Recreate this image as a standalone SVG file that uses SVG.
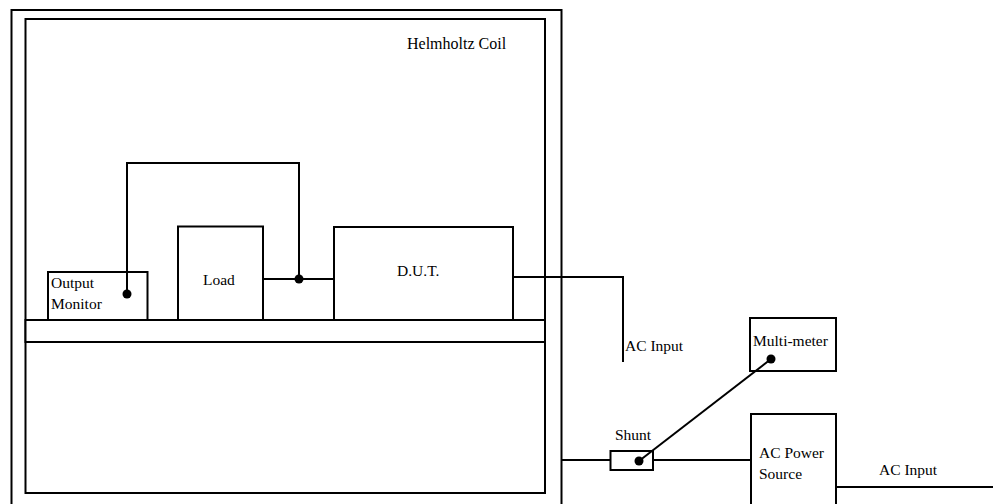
<svg xmlns="http://www.w3.org/2000/svg" width="995" height="504" viewBox="0 0 995 504">
<style>
.b{fill:#fff;stroke:#000;stroke-width:2}
.w{fill:none;stroke:#000;stroke-width:2}
.t{font-family:"Liberation Serif","Times New Roman","DejaVu Serif",serif;font-size:15.5px;fill:#000}
.d{fill:#000}
</style>
<rect width="995" height="504" fill="#fff"/>
<g id="enclosure">
<rect class="b" x="11.5" y="10" width="550" height="500"/>
</g>
<g id="helmholtz-coil">
<rect class="b" x="25.5" y="19" width="519.5" height="474"/>
<text class="t" x="407" y="49" style="font-size:16px">Helmholtz Coil</text>
</g>
<g id="shelf">
<rect class="b" x="25.5" y="320" width="519.5" height="22"/>
</g>
<g id="output-monitor">
<rect class="b" x="48" y="272" width="99.5" height="48"/>
<text class="t" x="51" y="288">Output</text>
<text class="t" x="51" y="309">Monitor</text>
</g>
<g id="load">
<rect class="b" x="178" y="226.5" width="85" height="93.5"/>
<text class="t" x="203" y="285">Load</text>
</g>
<g id="dut">
<rect class="b" x="334" y="227" width="179" height="93"/>
<text class="t" x="397" y="276">D.U.T.</text>
</g>
<g id="multi-meter">
<rect class="b" x="750" y="318" width="86" height="53"/>
<text class="t" x="753" y="346">Multi-meter</text>
</g>
<g id="shunt">
<rect class="b" x="610.5" y="451" width="42.5" height="19"/>
<text class="t" x="615" y="440">Shunt</text>
</g>
<g id="ac-power-source">
<rect class="b" x="751" y="414" width="85" height="100"/>
<text class="t" x="759" y="458">AC Power</text>
<text class="t" x="759" y="479">Source</text>
</g>
<g id="labels">
<text class="t" x="625" y="351">AC Input</text>
<text class="t" x="879" y="475">AC Input</text>
</g>
<g id="connectors">
<polyline class="w" points="127,294 127,163 299,163 299,279"/>
<line class="w" x1="263" y1="279" x2="334" y2="279"/>
<polyline class="w" points="513,277 623,277 623,362"/>
<line class="w" x1="561.5" y1="460" x2="610.5" y2="460"/>
<line class="w" x1="653" y1="460" x2="751" y2="460"/>
<line class="w" x1="639" y1="461" x2="771" y2="359"/>
<line class="w" x1="836" y1="487" x2="993" y2="487"/>
<circle class="d" cx="127" cy="294" r="4.5"/>
<circle class="d" cx="299" cy="279" r="4.5"/>
<circle class="d" cx="771" cy="359" r="4.5"/>
<circle class="d" cx="639" cy="461" r="4.5"/>
</g>
</svg>
